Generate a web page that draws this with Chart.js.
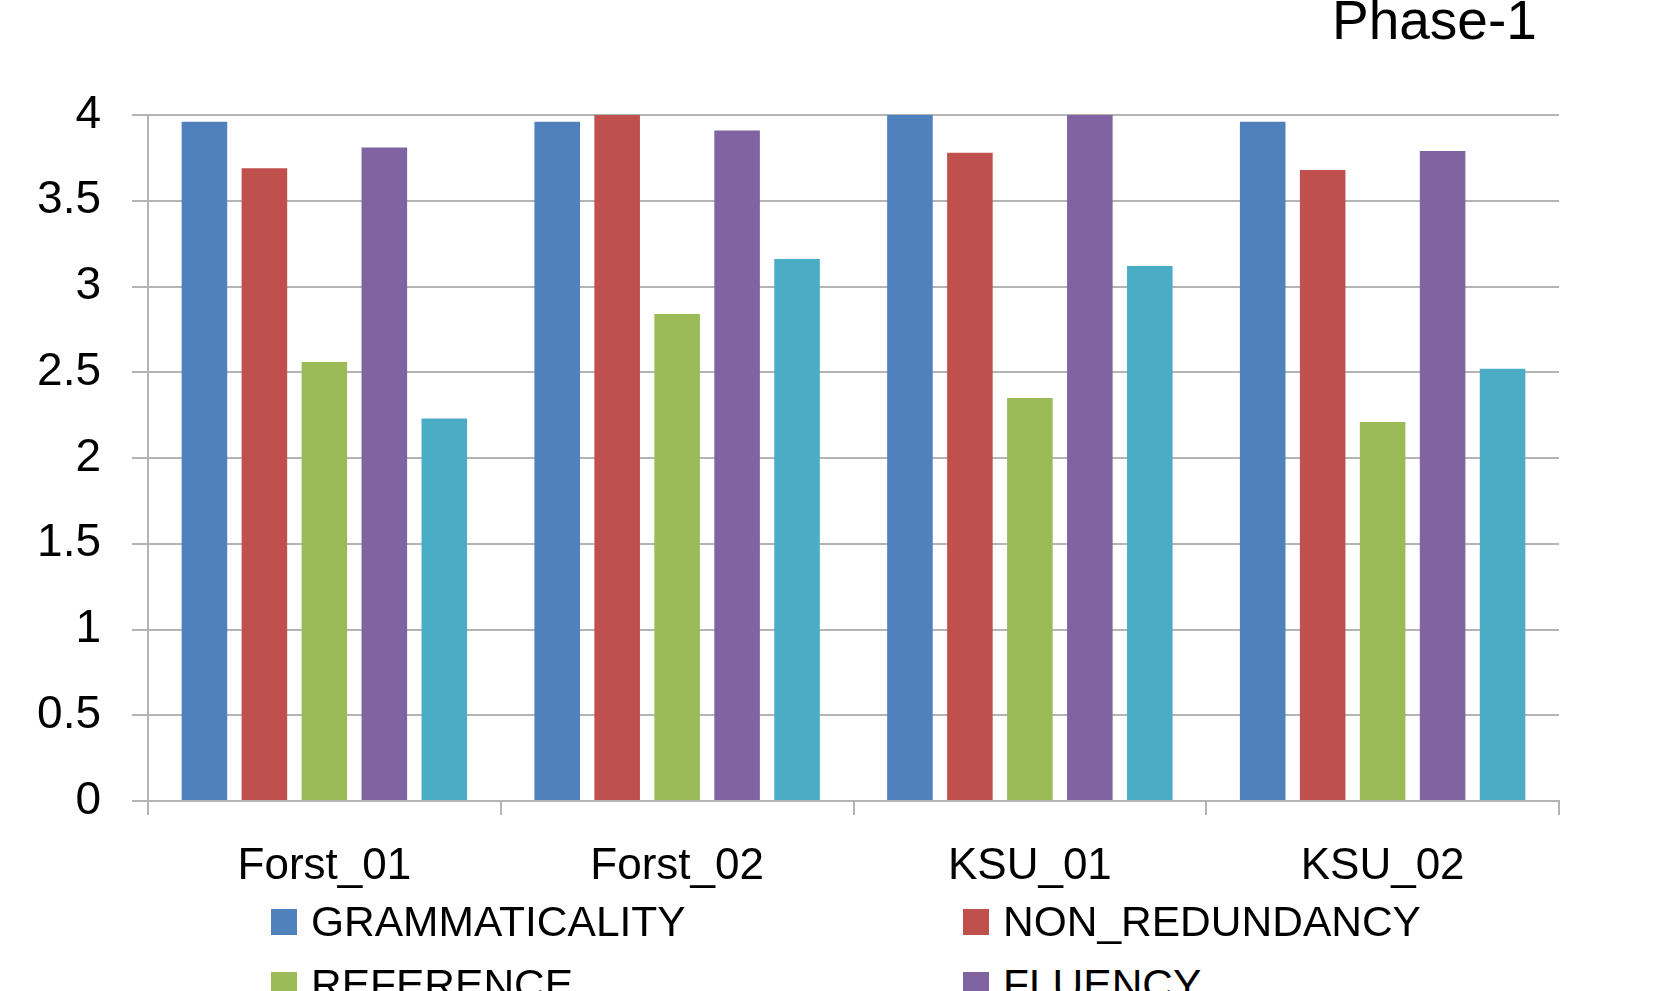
<!DOCTYPE html>
<html>
<head>
<meta charset="utf-8">
<script src="https://cdn.jsdelivr.net/npm/chart.js@4"></script>
<style>
  html, body { margin: 0; padding: 0; background: #fff; overflow: hidden; }
  body { width: 1654px; height: 991px; position: relative; font-family: "Liberation Sans", Arial, sans-serif; }
  #chart { position: absolute; left: 0; top: 0; }
  #title { position: absolute; left: 1332px; top: -12px; font-size: 55px; color: #000; white-space: nowrap; }
  #legend { position: absolute; left: 271px; top: 898px; width: 1300px; }
  .item { position: absolute; display: flex; align-items: center; font-size: 42.5px; color: #000; white-space: nowrap; }
  .swatch { width: 26px; height: 26px; margin-right: 14px; }
</style>
</head>
<body>
<canvas id="chart" width="1654" height="900"></canvas>
<div id="title">Phase-1</div>
<div id="legend"></div>
<script>
// ── data ──
const systems = ['Forst_01', 'Forst_02', 'KSU_01', 'KSU_02'];
const seriesNames = ['GRAMMATICALITY', 'NON_REDUNDANCY', 'REFERENCE', 'FLUENCY', 'COHERENCE'];
const grammaticality = [3.96, 3.96, 4.00, 3.96];
const nonRedundancy  = [3.69, 4.00, 3.78, 3.68];
const reference      = [2.56, 2.84, 2.35, 2.21];
const fluency        = [3.81, 3.91, 4.00, 3.79];
const coherence      = [2.23, 3.16, 3.12, 2.52];
const yTicks = [0, 0.5, 1, 1.5, 2, 2.5, 3, 3.5, 4];

const colors = ['#4F81BD', '#C0504D', '#9BBB59', '#8064A2', '#4BACC6'];
const seriesValues = [grammaticality, nonRedundancy, reference, fluency, coherence];

const gridColor = '#b4b4b4';
const fontFamily = '"Liberation Sans", Arial, sans-serif';

const chart = new Chart(document.getElementById('chart').getContext('2d'), {
  type: 'bar',
  data: {
    labels: systems,
    datasets: seriesNames.map((name, i) => ({
      label: name,
      data: seriesValues[i],
      backgroundColor: colors[i],
      borderWidth: 0,
      categoryPercentage: 0.85,
      barPercentage: 0.76,
    }))
  },
  options: {
    responsive: false,
    animation: false,
    layout: { padding: { top: 115, right: 95, left: 0, bottom: 0 } },
    plugins: { legend: { display: false }, tooltip: { enabled: false } },
    scales: {
      x: {
        grid: { display: true, drawOnChartArea: false, offset: true, tickLength: 14, color: gridColor, lineWidth: 2 },
        border: { display: true, color: gridColor, width: 2 },
        ticks: { color: '#000', padding: 25, font: { family: fontFamily, size: 44 } },
        afterFit: s => { s.height = 99; }
      },
      y: {
        min: 0, max: 4,
        afterBuildTicks: s => { s.ticks = yTicks.map(v => ({ value: v })); },
        grid: { color: gridColor, lineWidth: 2, tickLength: 16 },
        border: { display: true, color: gridColor, width: 2 },
        ticks: { color: '#000', padding: 31, font: { family: fontFamily, size: 46 }, callback: v => String(v) },
        afterFit: s => { s.width = 148; }
      }
    }
  }
});

// two-column legend below the chart, like the original
const legend = document.getElementById('legend');
seriesNames.forEach((name, i) => {
  const el = document.createElement('div');
  el.className = 'item';
  el.style.left = (i % 2 ? 692 : 0) + 'px';
  el.style.top = (Math.floor(i / 2) * 63) + 'px';
  el.innerHTML = `<span class="swatch" style="background:${colors[i]}"></span>${name}`;
  legend.appendChild(el);
});
</script>
</body>
</html>
